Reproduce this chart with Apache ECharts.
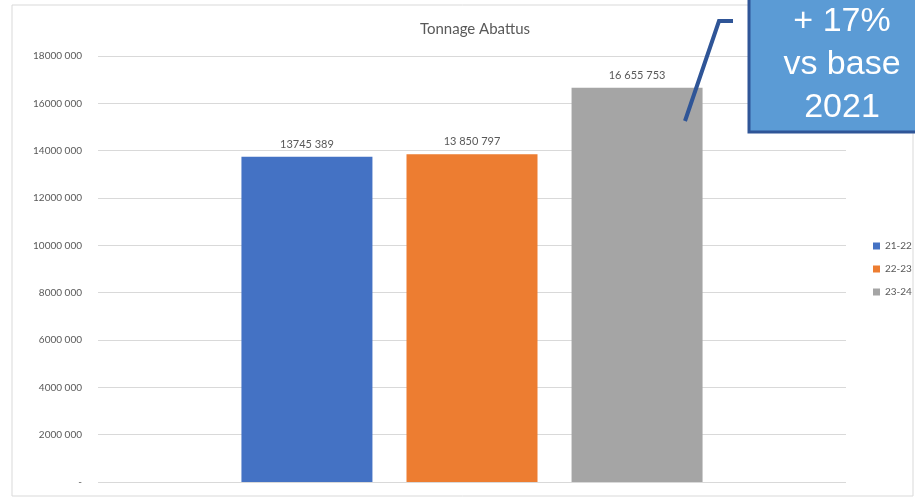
<!DOCTYPE html>
<html><head><meta charset="utf-8">
<script src="https://cdn.jsdelivr.net/npm/echarts@6/dist/echarts.min.js"></script>
<style>html,body{margin:0;padding:0;background:#fff}#c{width:915px;height:498px}</style>
</head><body><div id="c"></div>
<script>
var seriesNames = ['21-22', '22-23', '23-24'];
var seriesValues = [13745389, 13850797, 16655753];
var valueLabels = ['13745 389', '13 850 797', '16 655 753'];
var tickLabels = ['-', '2000 000', '4000 000', '6000 000', '8000 000', '10000 000', '12000 000', '14000 000', '16000 000', '18000 000'];
var colors = ['#4472C4', '#ED7D31', '#A5A5A5'];
var annotationLines = ['+ 17%', 'vs base', '2021'];

var chart = echarts.init(document.getElementById('c'));
var series = seriesNames.map(function (n, i) {
  return {
    name: n, type: 'bar', data: [seriesValues[i]],
    barWidth: 131, barGap: '26%',
    itemStyle: { color: colors[i] },
    label: { show: true, position: 'top', distance: 7, color: '#595959', fontSize: 11, fontFamily: 'Lato',
      formatter: function () { return valueLabels[i]; } }
  };
});
chart.setOption({
  animation: false,
  title: { text: 'Tonnage Abattus', left: 470, top: 17, textAlign: 'center',
    textStyle: { color: '#595959', fontSize: 15, fontWeight: 'normal', fontFamily: 'Lato' } },
  legend: { orient: 'vertical', left: 868, top: 236, itemWidth: 7, itemHeight: 7, itemGap: 13,
    icon: 'rect', textStyle: { color: '#595959', fontSize: 10, fontFamily: 'Lato' }, data: seriesNames },
  grid: { left: 98, right: 69, top: 56, bottom: 16, containLabel: false },
  xAxis: { type: 'category', data: [''], axisLine: { show: false }, axisTick: { show: false }, axisLabel: { show: false } },
  yAxis: { type: 'value', min: 0, max: 18000000, interval: 2000000,
    axisLabel: { color: '#595959', fontSize: 10, fontFamily: 'Lato', margin: 16,
      formatter: function (v) { return tickLabels[Math.round(v / 2000000)]; } },
    splitLine: { lineStyle: { color: '#D9D9D9', width: 1 } } },
  series: series,
  graphic: [
    { type: 'rect', shape: { x: 12, y: 5, width: 901, height: 491 }, style: { fill: 'none', stroke: '#D9D9D9', lineWidth: 1 }, z: -1 },
    { type: 'polyline', shape: { points: [[685, 121], [719, 21], [733, 21]] }, style: { stroke: '#2F5597', lineWidth: 4, fill: 'none' }, z: 10 },
    { type: 'rect', shape: { x: 749, y: -5, width: 175, height: 137 }, style: { fill: '#5B9BD5', stroke: '#2F5597', lineWidth: 3 }, z: 10 },
    { type: 'text', x: 842, y: 0, z: 11, style: { text: annotationLines.join('\n'), fill: '#fff', font: '34px "Liberation Sans", Arial, sans-serif', align: 'center', verticalAlign: 'top', lineHeight: 43 } }
  ]
});
</script></body></html>
